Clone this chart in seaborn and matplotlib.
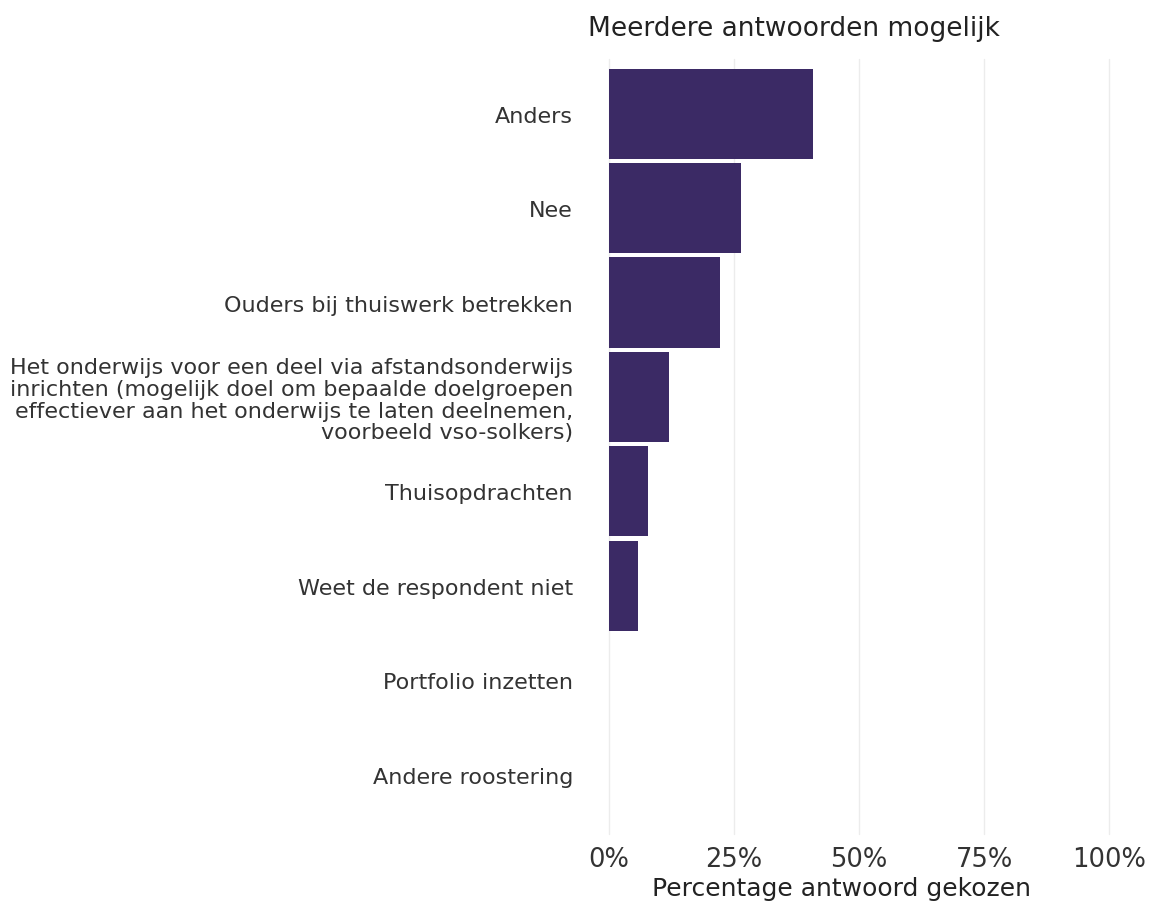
import matplotlib
matplotlib.use("Agg")
import matplotlib.pyplot as plt
import seaborn as sns
import pandas as pd

categories = [
    "Anders",
    "Nee",
    "Ouders bij thuiswerk betrekken",
    "Het onderwijs voor een deel via afstandsonderwijs\ninrichten (mogelijk doel om bepaalde doelgroepen\neffectiever aan het onderwijs te laten deelnemen,\nvoorbeeld vso-solkers)",
    "Thuisopdrachten",
    "Weet de respondent niet",
    "Portfolio inzetten",
    "Andere roostering",
]
values = [40.8, 26.4, 22.2, 12.0, 7.8, 5.8, 0.0, 0.0]
xticks = [0, 25, 50, 75, 100]
xtick_labels = ["0%", "25%", "50%", "75%", "100%"]

sns.set_theme(style="white")
plt.rcParams["font.family"] = ["DejaVu Sans"]

df = pd.DataFrame({"cat": categories, "val": values})

fig = plt.figure(figsize=(11.5, 9.04), dpi=100)
ax = fig.add_axes([609 / 1150, 1 - 835 / 904, 500 / 1150, (835 - 60) / 904])

for x in xticks:
    ax.axvline(x, color="#ececec", lw=1.0, zorder=0, clip_on=False)

sns.barplot(data=df, x="val", y="cat", orient="h", color="#3b2a65",
            saturation=1, width=0.955, linewidth=0, ax=ax, zorder=2)

ax.set_xlim(0, 100)
ax.set_ylim(7.63, -0.58)
ax.set_xticks(xticks)
ax.set_xticklabels(xtick_labels)
for s in ax.spines.values():
    s.set_visible(False)
ax.tick_params(axis="y", length=0, pad=26, labelsize=16, labelcolor="#333333")
ax.tick_params(axis="x", length=0, pad=9, labelsize=18.5, labelcolor="#333333")
for t in ax.get_yticklabels():
    t.set_linespacing(1.1)
ax.set_ylabel("")
ax.set_xlabel("")

fig.text(842 / 1150, 1 - 889 / 904, "Percentage antwoord gekozen",
         ha="center", va="center", fontsize=18, color="#222222")
fig.text(794 / 1150, 1 - 29 / 904, "Meerdere antwoorden mogelijk",
         ha="center", va="center", fontsize=19, color="#222222")

fig.savefig("out.png", dpi=100, facecolor="white")
